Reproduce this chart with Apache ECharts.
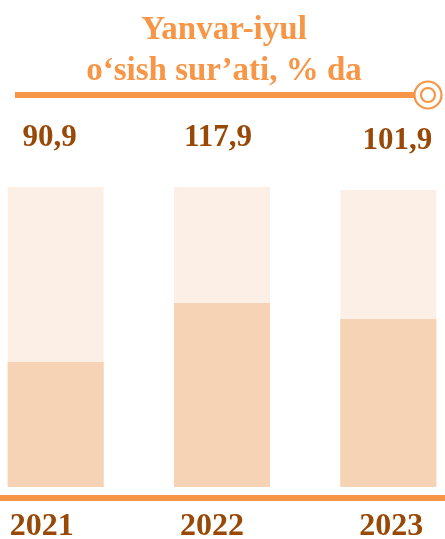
<!DOCTYPE html>
<html>
<head>
<meta charset="utf-8">
<script src="https://cdn.jsdelivr.net/npm/echarts@6/dist/echarts.min.js"></script>
<style>
  html, body { margin: 0; padding: 0; background: #fff; }
  #chart { width: 445px; height: 539px; }
</style>
</head>
<body>
<div id="chart"></div>
<script>
  // data
  const years = ['2021', '2022', '2023'];
  const growth = [90.9, 117.9, 101.9];        // o'sish sur'ati, %
  const fillLevel = [41.7, 61.3, 56.0];       // filled part of each column (share of track)
  const trackLevel = [100, 100, 99];          // light background track

  const orange = '#f79646';
  const brown = '#984807';
  const serif = '"Liberation Serif", "DejaVu Serif", serif';

  // small nudges so labels sit like in the original
  const valueShift = [-6, -4, 9];
  const yearShift = [-14, -10, 3];

  const fmt = v => v.toFixed(1).replace('.', ',');

  const yearRich = {};
  yearShift.forEach((s, i) => {
    yearRich['y' + i] = {
      fontFamily: serif, fontWeight: 'bold', fontSize: 32, color: brown,
      padding: s < 0 ? [0, -2 * s, 0, 0] : [0, 0, 0, 2 * s]
    };
  });

  const chart = echarts.init(document.getElementById('chart'));
  chart.setOption({
    animation: false,
    title: {
      text: 'Yanvar-iyul\no‘sish sur’ati, % da',
      left: 219,
      textAlign: 'center',
      top: 5,
      textStyle: {
        fontFamily: serif, fontWeight: 'bold', fontSize: 33,
        lineHeight: 41, color: orange
      }
    },
    grid: { left: -27.5, width: 499, top: 187, bottom: 52, outerBoundsMode: 'none', containLabel: false },
    xAxis: {
      type: 'category',
      data: years,
      offset: 11,
      axisLine: { onZero: false, lineStyle: { color: orange, width: 6 } },
      axisTick: { show: false },
      axisLabel: {
        margin: 13,
        formatter: (v, i) => '{y' + i + '|' + v + '}',
        rich: yearRich
      }
    },
    yAxis: { type: 'value', min: 0, max: 100, show: false },
    series: [
      {
        type: 'bar',
        barWidth: 96,
        barGap: '-100%',
        silent: true,
        itemStyle: { color: '#fcf0e6' },
        data: trackLevel.map((v, i) => ({
          value: v,
          label: { offset: [valueShift[i], 0] }
        })),
        label: {
          show: true,
          position: 'top',
          distance: 34,
          formatter: p => fmt(growth[p.dataIndex]),
          fontFamily: serif, fontWeight: 'bold', fontSize: 31, color: brown
        }
      },
      {
        type: 'bar',
        barWidth: 96,
        silent: true,
        itemStyle: { color: '#f6d3b4' },
        data: fillLevel
      }
    ],
    graphic: [
      {
        type: 'line',
        shape: { x1: 15, y1: 95, x2: 414, y2: 95 },
        style: { stroke: orange, lineWidth: 6 }
      },
      {
        type: 'circle',
        shape: { cx: 428, cy: 95, r: 13.5 },
        style: { fill: '#fff', stroke: orange, lineWidth: 2.2 }
      },
      {
        type: 'circle',
        shape: { cx: 428, cy: 95, r: 7 },
        style: { fill: '#fff', stroke: orange, lineWidth: 2.2 }
      }
    ]
  });
</script>
</body>
</html>
